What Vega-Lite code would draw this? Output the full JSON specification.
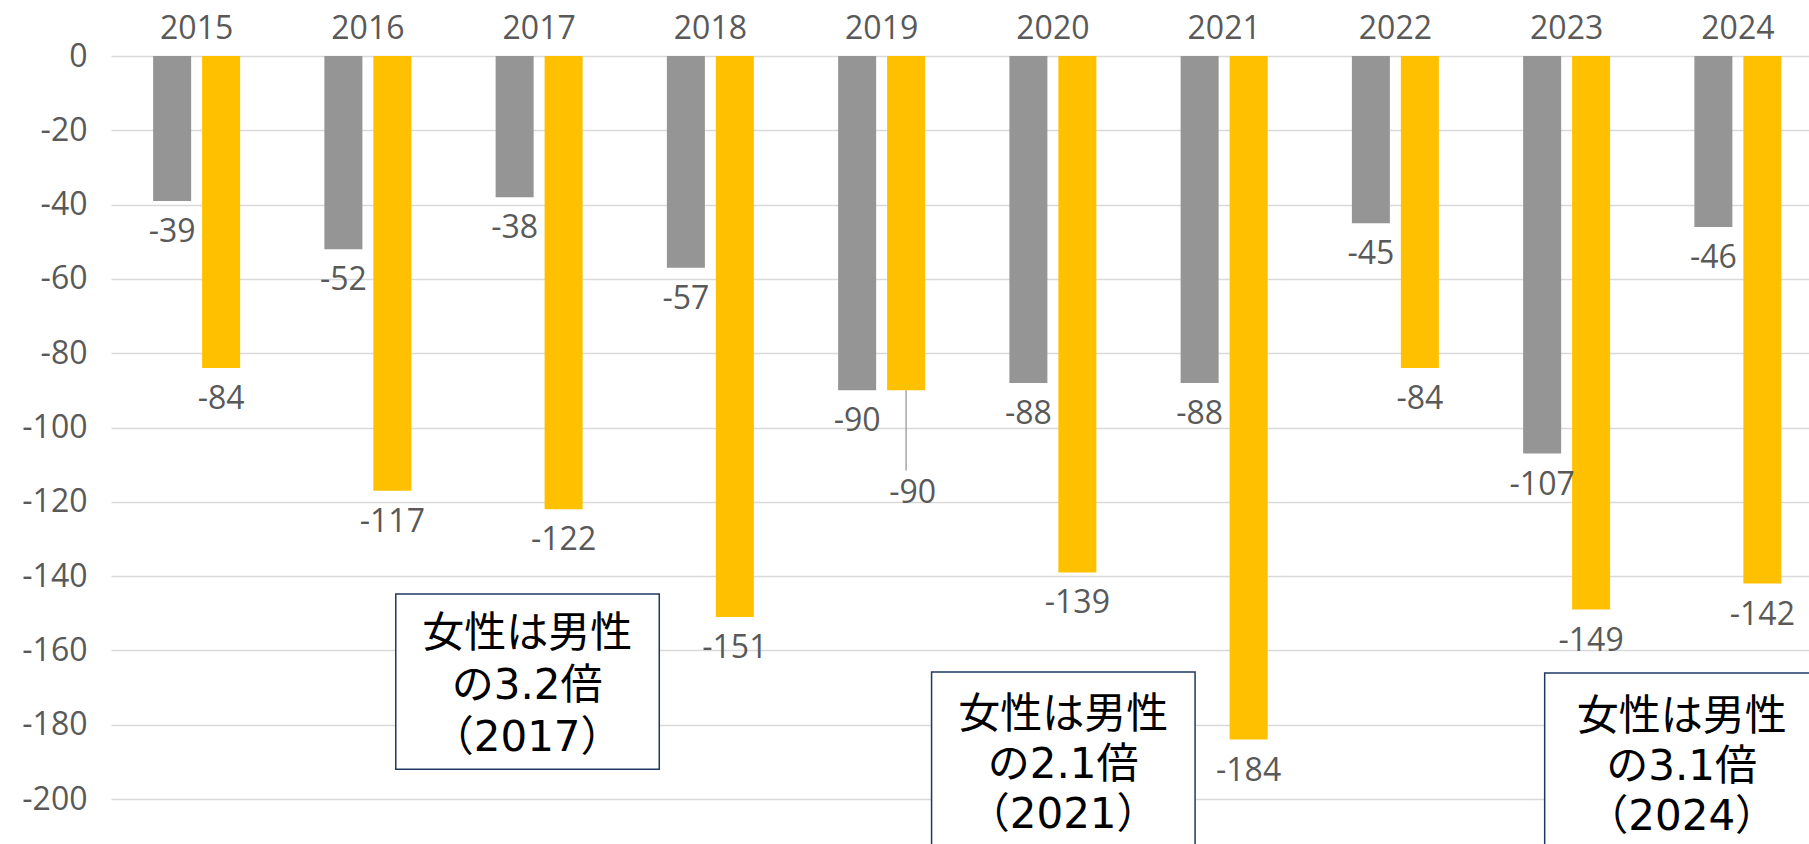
{
  "$schema": "https://vega.github.io/schema/vega-lite/v6.json",
  "width": 1698,
  "height": 788,
  "autosize": {"type": "none"},
  "padding": {"left": 111, "top": 56, "right": 0, "bottom": 0},
  "background": "white",
  "config": {
    "view": {"stroke": null},
    "font": "Open Sans",
    "locale": {"number": {"decimal": ".", "thousands": ",", "grouping": [3], "currency": ["", ""], "minus": "-"}}
  },
  "data": {
    "values": [
      {"year": "2015", "sex": "男性", "value": -39}, {"year": "2015", "sex": "女性", "value": -84},
      {"year": "2016", "sex": "男性", "value": -52}, {"year": "2016", "sex": "女性", "value": -117},
      {"year": "2017", "sex": "男性", "value": -38}, {"year": "2017", "sex": "女性", "value": -122},
      {"year": "2018", "sex": "男性", "value": -57}, {"year": "2018", "sex": "女性", "value": -151},
      {"year": "2019", "sex": "男性", "value": -90}, {"year": "2019", "sex": "女性", "value": -90},
      {"year": "2020", "sex": "男性", "value": -88}, {"year": "2020", "sex": "女性", "value": -139},
      {"year": "2021", "sex": "男性", "value": -88}, {"year": "2021", "sex": "女性", "value": -184},
      {"year": "2022", "sex": "男性", "value": -45}, {"year": "2022", "sex": "女性", "value": -84},
      {"year": "2023", "sex": "男性", "value": -107}, {"year": "2023", "sex": "女性", "value": -149},
      {"year": "2024", "sex": "男性", "value": -46}, {"year": "2024", "sex": "女性", "value": -142}
    ]
  },
  "layer": [
    {
      "mark": {"type": "bar"},
      "encoding": {
        "x": {"field": "year", "type": "nominal",
          "scale": {"range": [0, 1712.5], "paddingInner": 0.492, "paddingOuter": 0.246},
          "axis": {"orient": "top", "title": null, "labelFontSize": 32, "labelColor": "#595959", "ticks": false, "domain": false, "labelPadding": 18, "labelBaseline": "alphabetic", "labelAngle": 0, "labelFont": "Open Sans"}},
        "xOffset": {"field": "sex", "type": "nominal", "sort": ["男性", "女性"], "scale": {"paddingInner": 0.224, "paddingOuter": 0}},
        "y": {"field": "value", "type": "quantitative", "stack": null,
          "scale": {"domain": [-212.1, 0], "nice": false},
          "axis": {"title": null, "values": [0, -20, -40, -60, -80, -100, -120, -140, -160, -180, -200], "format": "d", "labelFontSize": 32, "labelColor": "#595959", "ticks": false, "domain": false, "labelPadding": 24, "gridColor": "#D9D9D9", "gridWidth": 1.5, "labelFont": "Open Sans"}},
        "color": {"field": "sex", "type": "nominal", "scale": {"domain": ["男性", "女性"], "range": ["#959595", "#FFC000"]}, "legend": null}
      }
    },
    {
      "transform": [{"filter": "!(datum.year == '2019' && datum.sex == '女性')"}],
      "mark": {"type": "text", "baseline": "middle", "dy": 31, "fontSize": 32, "color": "#595959", "font": "Open Sans"},
      "encoding": {
        "x": {"field": "year", "type": "nominal"},
        "xOffset": {"field": "sex", "type": "nominal", "sort": ["男性", "女性"]},
        "y": {"field": "value", "type": "quantitative"},
        "text": {"field": "value", "type": "quantitative", "format": "d"}
      }
    },
    {
      "transform": [{"filter": "datum.year == '2019' && datum.sex == '女性'"}],
      "mark": {"type": "rule", "color": "#A6A6A6", "strokeWidth": 1.5},
      "encoding": {
        "x": {"field": "year", "type": "nominal"},
        "xOffset": {"field": "sex", "type": "nominal", "sort": ["男性", "女性"]},
        "y": {"field": "value", "type": "quantitative"},
        "y2": {"datum": -111.6}
      }
    },
    {
      "transform": [{"filter": "datum.year == '2019' && datum.sex == '女性'"}],
      "mark": {"type": "text", "baseline": "middle", "dy": 103, "dx": 6.5, "fontSize": 32, "color": "#595959", "font": "Open Sans"},
      "encoding": {
        "x": {"field": "year", "type": "nominal"},
        "xOffset": {"field": "sex", "type": "nominal", "sort": ["男性", "女性"]},
        "y": {"field": "value", "type": "quantitative"},
        "text": {"field": "value", "type": "quantitative", "format": "d"}
      }
    },
    {
      "data": {"values": [{"year": "2017", "note": "女性は男性\nの3.2倍\n（2017）"}]},
      "layer": [
        {"mark": {"type": "bar", "width": 263.5, "xOffset": -11.6, "fill": "white", "stroke": "#1F3864", "strokeWidth": 1.5, "clip": true},
         "encoding": {"x": {"field": "year", "type": "nominal"}, "y": {"datum": -144.8}, "y2": {"datum": -192}}},
        {"mark": {"type": "text", "lineBreak": "\n", "fontSize": 42, "lineHeight": 52, "dx": -12, "color": "black", "baseline": "middle", "font": "DejaVu Sans, Noto Sans CJK JP"},
         "encoding": {"x": {"field": "year", "type": "nominal"}, "y": {"datum": -155.6}, "text": {"field": "note"}}}
      ]
    },
    {
      "data": {"values": [{"year": "2021", "note": "女性は男性\nの2.1倍\n（2021）"}]},
      "layer": [
        {"mark": {"type": "bar", "width": 263.5, "xOffset": -160.8, "fill": "white", "stroke": "#1F3864", "strokeWidth": 1.5, "clip": true},
         "encoding": {"x": {"field": "year", "type": "nominal"}, "y": {"datum": -165.8}, "y2": {"datum": -216}}},
        {"mark": {"type": "text", "lineBreak": "\n", "fontSize": 42, "lineHeight": 50, "dx": -161, "color": "black", "baseline": "middle", "font": "DejaVu Sans, Noto Sans CJK JP"},
         "encoding": {"x": {"field": "year", "type": "nominal"}, "y": {"datum": -177.5}, "text": {"field": "note"}}}
      ]
    },
    {
      "data": {"values": [{"year": "2024", "note": "女性は男性\nの3.1倍\n（2024）"}]},
      "layer": [
        {"mark": {"type": "bar", "width": 274, "xOffset": -56.2, "fill": "white", "stroke": "#1F3864", "strokeWidth": 1.5, "clip": true},
         "encoding": {"x": {"field": "year", "type": "nominal"}, "y": {"datum": -166.1}, "y2": {"datum": -216}}},
        {"mark": {"type": "text", "lineBreak": "\n", "fontSize": 42, "lineHeight": 50, "dx": -56.2, "color": "black", "baseline": "middle", "font": "DejaVu Sans, Noto Sans CJK JP"},
         "encoding": {"x": {"field": "year", "type": "nominal"}, "y": {"datum": -178}, "text": {"field": "note"}}}
      ]
    }
  ]
}
